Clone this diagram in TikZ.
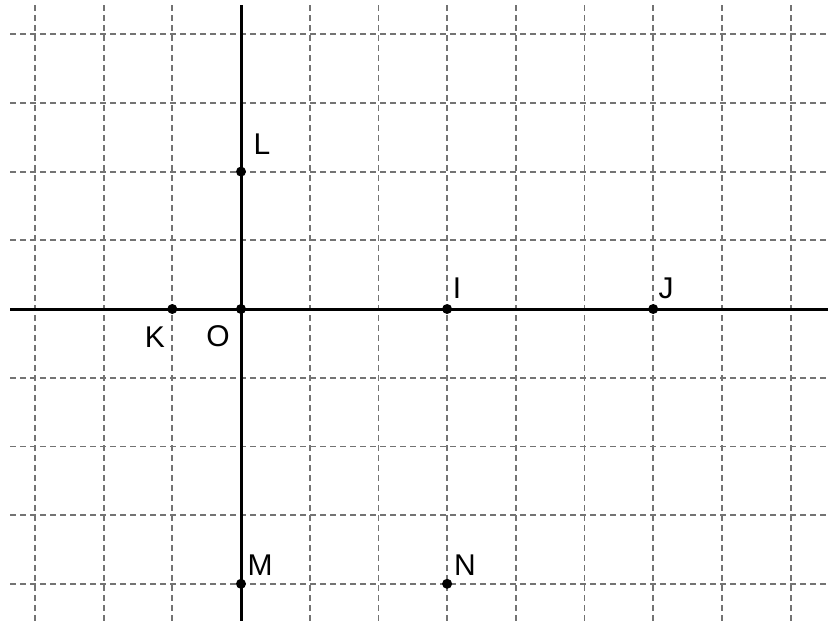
\documentclass[tikz,border=0pt]{standalone}
\usepackage{fontspec}
\setmainfont{Liberation Sans}
\begin{document}
\begin{tikzpicture}[x=1pt,y=-1pt,
  gridline/.style={draw=black!55, line width=1.8pt, dash pattern=on 6pt off 4pt},
  axis/.style={draw=black, line width=3pt},
  pt/.style={circle, fill=black, inner sep=0pt, minimum size=10pt},
  lbl/.style={font=\fontsize{30}{36}\selectfont, inner sep=0pt}]
\useasboundingbox[fill=white] (0,0) rectangle (828,621);
\def\u{68.7}
% grid
\foreach \k in {-3,...,8}
  \draw[gridline] ({241+\k*\u},5) -- ({241+\k*\u},621);
\foreach \k in {-4,...,4}
  \draw[gridline] (10,{309+\k*\u}) -- (828,{309+\k*\u});
% axes ends
\coordinate (xl) at (10,309);
\coordinate (xr) at (828,309);
\coordinate (yt) at (241,5);
\coordinate (yb) at (241,621);
\draw[axis] (xl) -- (xr);
\draw[axis] (yt) -- (yb);
% points
\node[pt] (O) at (241,309) {};
\node[pt] (K) at ({241-\u},309) {};
\node[pt] (I) at ({241+3*\u},309) {};
\node[pt] (J) at ({241+6*\u},309) {};
\node[pt] (L) at (241,{309-2*\u}) {};
\node[pt] (M) at (241,{309+4*\u}) {};
\node[pt] (N) at ({241+3*\u},{309+4*\u}) {};
% labels
\node[lbl] (tL) at (262,144) {L};
\node[lbl] (tK) at (155,337) {K};
\node[lbl] (tO) at (218,336) {O};
\node[lbl] (tI) at (457,288) {I};
\node[lbl] (tJ) at (666,288) {J};
\node[lbl] (tM) at (260,565) {M};
\node[lbl] (tN) at (465,565) {N};
\end{tikzpicture}
\end{document}
